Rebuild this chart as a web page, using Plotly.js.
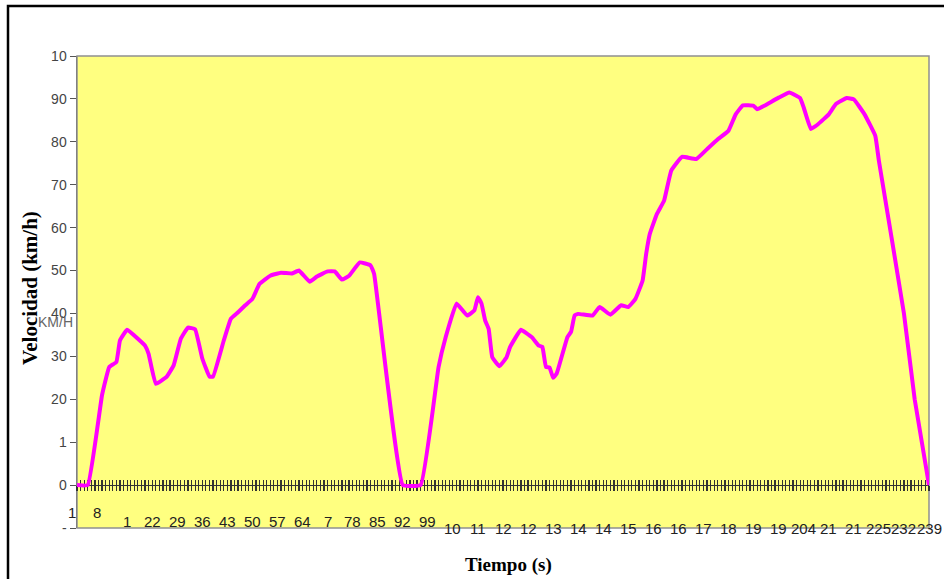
<!DOCTYPE html>
<html>
<head>
<meta charset="utf-8">
<script src="https://cdn.plot.ly/plotly-3.0.1.min.js"></script>
<style>html,body{margin:0;padding:0;background:#fff;}#chart{width:944px;height:579px;}</style>
</head>
<body>
<div id="chart"></div>
<script>
// Data
const timeSec = [1,4,8,10,12,13,15,18,20,21,23,26,28,30,32,34,36,38,39,42,44,46,48,50,52,55,58,61,63,66,68,71,73,75,77,80,83,84,92,97,102,104,107,110,112,113,114,115,116,117,119,121,122,125,128,130,131,132,133,134,135,138,139,140,141,145,147,150,153,155,157,159,160,161,163,165,167,170,174,177,180,183,185,187,190,191,193,197,200,203,204,206,208,211,213,216,218,221,224,225,232,235,239];
const speedKmh = [0,0,21,27.5,28.7,33.7,36.2,34.1,32.5,30.6,23.6,25.2,27.9,34.1,36.7,36.3,29.5,25.3,25.3,33.7,38.8,40.3,41.9,43.4,46.9,48.8,49.5,49.3,50,47.4,48.6,49.8,49.8,47.9,48.8,51.9,51.2,49.2,0,0,27.5,34.5,42.3,39.5,40.7,43.8,42.3,38.4,36.4,29.8,27.7,29.8,32.2,36.2,34.5,32.5,32.2,27.5,27.4,25,26,34.5,35.7,39.5,39.9,39.5,41.5,39.7,41.9,41.5,43.4,47.7,53.9,58.5,63.2,66.3,73.3,76.5,76,78.3,80.6,82.6,86.4,88.5,88.4,87.6,88.4,90.3,91.5,90.2,88,83,84.1,86.4,88.8,90.2,89.9,86.4,81.4,75.6,40,20,0];

const yTickVals = [-10,0,10,20,30,40,50,60,70,80,90,100];
const yTickText = ["-","0","1","20","30","40","50","60","70","80","90","10"];

const xTickVals = [1,8,15,22,29,36,43,50,57,64,71,78,85,92,99,106,113,120,127,134,141,148,155,162,169,176,183,190,197,204,211,218,225,232,239];
const xTickText = ["1","8","1","22","29","36","43","50","57","64","7","78","85","92","99","10","11","12","12","13","14","14","15","16","16","17","18","19","19","204","21","21","225","232","239"];

const xTitle = "Tiempo (s)";
const yTitle = "Velocidad (km/h)";
const unitNote = "KM/H";

const PL = 77, PR = 929, PT = 56, PB = 528, W = 944, H = 579;
const pw = PR - PL, ph = PB - PT;

const annotations = [];
xTickVals.forEach((v, i) => {
  let yv, xs = 0;
  if (i < 2) { yv = -6.5; xs = -5; }
  else if (v < 106) { yv = -8.4; }
  else { yv = -10; }
  annotations.push({
    x: v, y: yv, xref: 'x', yref: 'y', text: xTickText[i], showarrow: false,
    xanchor: 'center', yanchor: 'middle', xshift: xs,
    font: {family: 'Liberation Sans, Arial, sans-serif', size: 15, color: '#222'}
  });
});
annotations.push({
  x: (55 - PL) / pw, y: 38, xref: 'paper', yref: 'y', text: unitNote, showarrow: false,
  xanchor: 'center', yanchor: 'middle',
  font: {family: 'Liberation Sans, Arial, sans-serif', size: 14, color: '#666'}
});
annotations.push({
  x: (30 - PL) / pw, y: (PB - 288) / ph, xref: 'paper', yref: 'paper', text: '<b>' + yTitle + '</b>',
  showarrow: false, textangle: -90, xanchor: 'center', yanchor: 'middle',
  font: {family: 'Liberation Serif, Times New Roman, serif', size: 21, color: '#000'}
});
annotations.push({
  x: (508 - PL) / pw, y: (PB - 565) / ph, xref: 'paper', yref: 'paper', text: '<b>' + xTitle + '</b>',
  showarrow: false, xanchor: 'center', yanchor: 'middle',
  font: {family: 'Liberation Serif, Times New Roman, serif', size: 19, color: '#000'}
});

const zeroPos = (0 - (-10)) / 110;

const traces = [
  {x: timeSec, y: speedKmh, xaxis: 'x2', yaxis: 'y', mode: 'lines', hoverinfo: 'skip',
   line: {color: 'rgba(0,0,0,0)', width: 0}, showlegend: false},
  {x: timeSec, y: speedKmh, xaxis: 'x', yaxis: 'y', mode: 'lines', hoverinfo: 'skip',
   line: {color: '#FF00FF', width: 4, shape: 'spline', smoothing: 0.3}, showlegend: false}
];

const layout = {
  width: W, height: H, autosize: false,
  margin: {l: PL, r: W - PR, t: PT, b: H - PB, pad: 0},
  paper_bgcolor: '#ffffff', plot_bgcolor: '#FFFF80',
  showlegend: false,
  xaxis: {
    range: [1, 239], anchor: 'free', position: zeroPos,
    showgrid: false, zeroline: false, showline: true, linecolor: '#333', linewidth: 1,
    ticks: 'outside', ticklen: 5, tickwidth: 1.2, tickcolor: '#333', tick0: 1, dtick: 1,
    showticklabels: false, layer: 'below traces', fixedrange: true
  },
  xaxis2: {
    range: [1, 239], overlaying: 'x', anchor: 'free', position: zeroPos,
    showgrid: false, zeroline: false, showline: false,
    ticks: 'inside', ticklen: 5, tickwidth: 1.2, tickcolor: '#333', tick0: 1, dtick: 1,
    showticklabels: false, layer: 'below traces', fixedrange: true
  },
  yaxis: {
    range: [-10, 100], tickmode: 'array', tickvals: yTickVals, ticktext: yTickText,
    showgrid: false, zeroline: false, showline: true, linecolor: '#808080', linewidth: 1.5,
    ticks: 'outside', ticklen: 6, tickwidth: 1, tickcolor: '#555',
    tickfont: {family: 'Liberation Sans, Arial, sans-serif', size: 14, color: '#444'},
    layer: 'below traces', fixedrange: true
  },
  shapes: [
    {type: 'rect', xref: 'paper', yref: 'paper', x0: 0, x1: 1, y0: 0, y1: 1,
     line: {color: '#909090', width: 1.5}, layer: 'below'},
    {type: 'rect', xref: 'paper', yref: 'paper',
     x0: (8 - PL) / pw, x1: (952 - PL) / pw, y0: (PB - 600) / ph, y1: (PB - 6) / ph,
     line: {color: '#000', width: 2.5}, fillcolor: 'rgba(0,0,0,0)', layer: 'above'}
  ],
  annotations: annotations
};

Plotly.newPlot('chart', traces, layout, {staticPlot: true, displayModeBar: false});
</script>
</body>
</html>
